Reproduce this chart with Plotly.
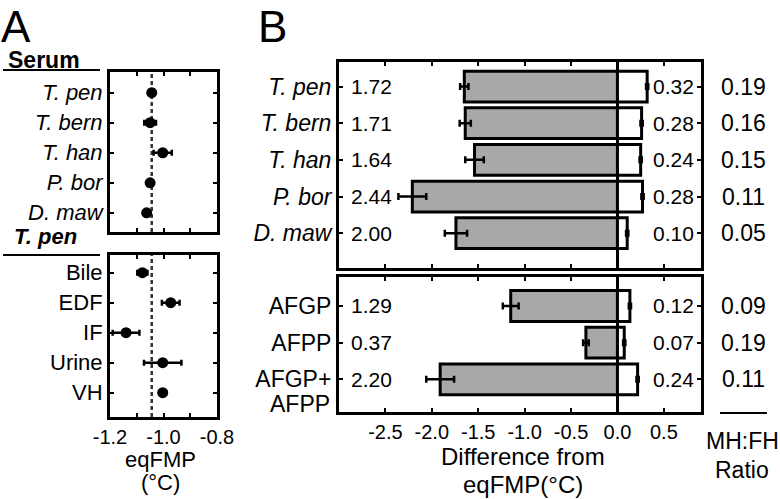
import plotly.graph_objects as go

# ---------------- data ----------------
# Panel A
serum_labels = ["T. pen", "T. bern", "T. han", "P. bor", "D. maw"]
serum_eqfmp = [-1.044, -1.050, -1.003, -1.050, -1.063]
serum_err = [0.006, 0.022, 0.034, 0.008, 0.008]

tpen_labels = ["Bile", "EDF", "IF", "Urine", "VH"]
tpen_eqfmp = [-1.079, -0.973, -1.140, -1.003, -1.003]
tpen_err = [0.019, 0.033, 0.050, 0.070, 0.012]

serum_ref = -1.044

# Panel B
sp_labels = ["T. pen", "T. bern", "T. han", "P. bor", "D. maw"]
sp_neg = [-1.65, -1.64, -1.54, -2.21, -1.74]
sp_neg_err = [0.045, 0.06, 0.10, 0.15, 0.12]
sp_pos = [0.32, 0.26, 0.25, 0.27, 0.105]
sp_pos_err = [0.012, 0.012, 0.012, 0.012, 0.012]
sp_left_txt = ["1.72", "1.71", "1.64", "2.44", "2.00"]
sp_right_txt = ["0.32", "0.28", "0.24", "0.28", "0.10"]
sp_ratio = ["0.19", "0.16", "0.15", "0.11", "0.05"]

pr_labels = ["AFGP", "AFPP", "AFGP+"]
pr_neg = [-1.15, -0.34, -1.91]
pr_neg_err = [0.085, 0.03, 0.15]
pr_pos = [0.134, 0.073, 0.217]
pr_pos_err = [0.012, 0.012, 0.012]
pr_left_txt = ["1.29", "0.37", "2.20"]
pr_right_txt = ["0.12", "0.07", "0.24"]
pr_ratio = ["0.09", "0.19", "0.11"]

xa_ticks = [-1.2, -1.1, -1.0, -0.9, -0.8]
xa_ticktext = ["-1.2", "", "-1.0", "", "-0.8"]
xb_ticks = [-2.5, -2.0, -1.5, -1.0, -0.5, 0.0, 0.5]
xb_ticktext = ["-2.5", "-2.0", "-1.5", "-1.0", "-0.5", "0.0", "0.5"]

FONT = "Liberation Sans, Arial, Helvetica, sans-serif"
GRAY = "#a8a8a8"

W, H = 780, 499


def px(x):
    return x / W


def py(y):
    return 1 - y / H


fig = go.Figure()

# ---------- Panel A points ----------
for ax, vals, errs in [("", serum_eqfmp, serum_err), ("2", tpen_eqfmp, tpen_err)]:
    fig.add_trace(go.Scatter(
        x=vals, y=list(range(len(vals))), mode="markers",
        marker=dict(color="black", size=11),
        error_x=dict(type="data", array=errs, color="black", thickness=2.5, width=3),
        xaxis="x" + ax, yaxis="y" + ax, showlegend=False, hoverinfo="skip"))

# ---------- Panel B bars ----------
for ax, neg, nerr, pos, perr in [("3", sp_neg, sp_neg_err, sp_pos, sp_pos_err),
                                  ("4", pr_neg, pr_neg_err, pr_pos, pr_pos_err)]:
    ys = list(range(len(neg)))
    fig.add_trace(go.Bar(
        x=neg, y=ys, orientation="h", width=0.84,
        marker=dict(color=GRAY, line=dict(color="black", width=3)),
        error_x=dict(type="data", array=nerr, color="black", thickness=2.5, width=3.5),
        xaxis="x" + ax, yaxis="y" + ax, showlegend=False, hoverinfo="skip"))
    fig.add_trace(go.Bar(
        x=pos, y=ys, orientation="h", width=0.84,
        marker=dict(color="white", line=dict(color="black", width=3)),
        error_x=dict(type="data", array=perr, color="black", thickness=2.5, width=3.5),
        xaxis="x" + ax, yaxis="y" + ax, showlegend=False, hoverinfo="skip"))

# ---------- axes ----------
common = dict(showline=True, linecolor="black", linewidth=3, mirror="ticks",
              ticks="inside", ticklen=4, tickwidth=1.5, tickcolor="black",
              showgrid=False, zeroline=False, automargin=False,
              tickfont=dict(family=FONT, size=20, color="black"))

layout = dict(
    width=W, height=H, margin=dict(l=0, r=0, t=0, b=0, autoexpand=False),
    paper_bgcolor="white", plot_bgcolor="white",
    barmode="overlay", font=dict(family=FONT, color="black"),
)

italic = lambda lst: [f"<i>{t}</i>" for t in lst]

# Panel A top
layout["xaxis"] = dict(common, domain=[px(110), px(217)], range=[-1.2, -0.8],
                       tickvals=xa_ticks, ticktext=xa_ticktext, showticklabels=False,
                       anchor="y")
layout["yaxis"] = dict(common, domain=[py(232), py(72)], range=[4.64, -0.69],
                       tickvals=list(range(5)), ticktext=italic(serum_labels),
                       tickfont=dict(family=FONT, size=22, color="black"), anchor="x")
# Panel A bottom
layout["xaxis2"] = dict(common, domain=[px(110), px(217)], range=[-1.2, -0.8],
                        tickvals=xa_ticks, ticktext=xa_ticktext, anchor="y2")
layout["yaxis2"] = dict(common, domain=[py(417), py(255)], range=[4.81, -0.59],
                        tickvals=list(range(5)), ticktext=tpen_labels,
                        tickfont=dict(family=FONT, size=22, color="black"), anchor="x2")
# Panel B top
layout["xaxis3"] = dict(common, domain=[px(339), px(701)], range=[-3.0, 0.9],
                        tickvals=xb_ticks, ticktext=xb_ticktext, showticklabels=False,
                        zeroline=True, zerolinecolor="black", zerolinewidth=2.5,
                        anchor="y3")
layout["yaxis3"] = dict(common, domain=[py(268), py(62)], range=[4.95, -0.67],
                        tickvals=list(range(5)), ticktext=italic(sp_labels),
                        tickfont=dict(family=FONT, size=23, color="black"), anchor="x3")
# Panel B bottom
layout["xaxis4"] = dict(common, domain=[px(339), px(701)], range=[-3.0, 0.9],
                        tickvals=xb_ticks, ticktext=xb_ticktext,
                        zeroline=True, zerolinecolor="black", zerolinewidth=2.5,
                        anchor="y4")
layout["yaxis4"] = dict(common, domain=[py(412), py(277)], range=[2.89, -0.79],
                        tickvals=list(range(3)), ticktext=pr_labels,
                        tickfont=dict(family=FONT, size=23, color="black"), anchor="x4")

fig.update_layout(**layout)

# dashed reference line in panel A
for xr, yr in [("x", "y domain"), ("x2", "y2 domain")]:
    fig.add_shape(type="line", xref=xr, yref=yr,
                  x0=serum_ref, x1=serum_ref, y0=0, y1=1,
                  line=dict(color="#333333", width=2.5, dash="4px,3px"), layer="below")

ann = []


def text(x, y, s, size, xanchor="center", yanchor="middle", xref="paper", yref="paper", **kw):
    ann.append(dict(x=x, y=y, text=s, xref=xref, yref=yref, showarrow=False,
                    xanchor=xanchor, yanchor=yanchor,
                    font=dict(family=FONT, size=size, color="black"), **kw))


# panel letters
text(px(-1), py(27), "A", 44, xanchor="left")
text(px(256), py(27), "B", 44, xanchor="left")
# Panel A headings
text(px(44), py(60), "<b>Serum</b>", 23)
text(px(45), py(236), "<b><i>T. pen</i></b>", 22)
text(px(160), py(459), "eqFMP", 22)
text(px(160), py(482), "(°C)", 22)
# Panel B axis title
text(px(523), py(456), "Difference from", 24)
text(px(523), py(484), "eqFMP(°C)", 24)
# ratio column title
text(px(742), py(441), "MH:FH", 23)
text(px(742), py(470), "Ratio", 23)
# second line of AFGP+AFPP label
text(px(332), py(404), "AFPP", 23, xanchor="right")

# in-panel numbers
for ax, lt, rt, rat in [("3", sp_left_txt, sp_right_txt, sp_ratio),
                        ("4", pr_left_txt, pr_right_txt, pr_ratio)]:
    for i, (a, b, c) in enumerate(zip(lt, rt, rat)):
        text(0.028, i, a, 21, xanchor="left", xref="x" + ax + " domain", yref="y" + ax)
        text(0.985, i, b, 21, xanchor="right", xref="x" + ax + " domain", yref="y" + ax)
        text(px(743), i, c, 23, xanchor="center", yref="y" + ax)

fig.update_layout(annotations=ann)

# underline rules
for x0, x1, y in [(3, 100, 70), (3, 100, 255), (720, 767, 413)]:
    fig.add_shape(type="line", xref="paper", yref="paper", x0=px(x0), x1=px(x1),
                  y0=py(y), y1=py(y), line=dict(color="black", width=2))

fig.write_html("out.html", config={"displayModeBar": False},
               post_script="document.body.style.margin='0';document.body.style.overflow='hidden';")
